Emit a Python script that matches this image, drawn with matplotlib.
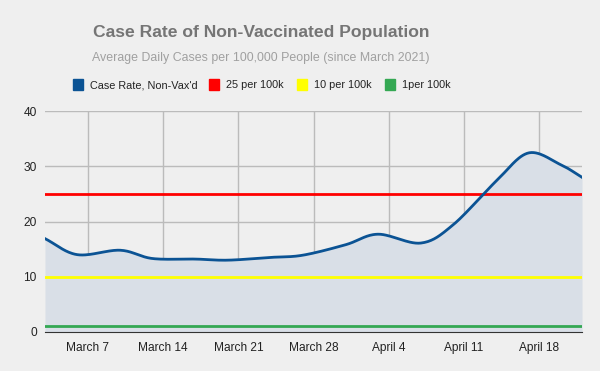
import numpy as np
import pandas as pd
import matplotlib
matplotlib.use("Agg")
import matplotlib.pyplot as plt
import matplotlib.dates as mdates
from matplotlib.patches import Rectangle

plt.rcParams['font.family'] = ['Liberation Sans', 'DejaVu Sans']

# data
dates = ["2021-03-03", "2021-03-06", "2021-03-10", "2021-03-13", "2021-03-17",
         "2021-03-20", "2021-03-24", "2021-03-27", "2021-03-31", "2021-04-03",
         "2021-04-07", "2021-04-10", "2021-04-14", "2021-04-17", "2021-04-20",
         "2021-04-22"]
case_rate = [16.9, 14.0, 14.8, 13.3, 13.2, 13.0, 13.5, 13.9, 15.8, 17.7,
             16.1, 19.4, 27.3, 32.4, 30.3, 28.0]
thresholds = [25, 10, 1]
threshold_labels = ["25 per 100k", "10 per 100k", "1per 100k"]
threshold_colors = ["#ff0000", "#ffff00", "#34a853"]
tick_dates = ["2021-03-07", "2021-03-14", "2021-03-21", "2021-03-28",
              "2021-04-04", "2021-04-11", "2021-04-18"]
tick_labels = ["March 7", "March 14", "March 21", "March 28",
               "April 4", "April 11", "April 18"]

x = mdates.date2num(pd.to_datetime(dates))
y = np.array(case_rate)

# smooth curve through the points (catmull-rom)
def smooth(xs, ys, n=30):
    px = np.concatenate([[2 * xs[0] - xs[1]], xs, [2 * xs[-1] - xs[-2]]])
    py = np.concatenate([[2 * ys[0] - ys[1]], ys, [2 * ys[-1] - ys[-2]]])
    outx, outy = [], []
    t = np.linspace(0, 1, n, endpoint=False)
    for i in range(1, len(px) - 2):
        for p, out in ((px, outx), (py, outy)):
            p0, p1, p2, p3 = p[i - 1], p[i], p[i + 1], p[i + 2]
            out.extend(0.5 * (2 * p1 + (-p0 + p2) * t
                              + (2 * p0 - 5 * p1 + 4 * p2 - p3) * t ** 2
                              + (-p0 + 3 * p1 - 3 * p2 + p3) * t ** 3))
    outx.append(xs[-1])
    outy.append(ys[-1])
    return np.array(outx), np.array(outy)

sx, sy = smooth(x, y)

bg = "#efefef"
fig = plt.figure(figsize=(6, 3.71), dpi=100, facecolor=bg)
ax = fig.add_axes([45 / 600, 39 / 371, 537 / 600, 221 / 371], facecolor=bg)

ax.fill_between(sx, 0, sy, color="#d9dfe7", lw=0, zorder=1)
for val, col in zip(thresholds, threshold_colors):
    ax.axhline(val, color=col, lw=2, zorder=2)
ax.plot(sx, sy, color="#0b5394", lw=2, zorder=3)

ax.set_xlim(x[0], x[-1])
ax.set_ylim(0, 40)
ax.set_yticks([0, 10, 20, 30, 40])
ax.set_xticks(mdates.date2num(pd.to_datetime(tick_dates)))
ax.set_xticklabels(tick_labels)
ax.grid(True, color="#bbbbbb", lw=1, zorder=0)
ax.set_axisbelow(True)
for s in ["top", "right", "left"]:
    ax.spines[s].set_visible(False)
ax.spines["bottom"].set_color("#333333")
ax.tick_params(length=0, labelsize=8.6, colors="#222222", pad=7)
ax.tick_params(axis="y", pad=6)

fig.text(0.435, 1 - 32 / 371, "Case Rate of Non-Vaccinated Population", ha="center",
         va="center", fontsize=12.6, fontweight="bold", color="#757575")
fig.text(0.435, 1 - 58 / 371, "Average Daily Cases per 100,000 People (since March 2021)",
         ha="center", va="center", fontsize=8.9, color="#a0a0a0")

# legend
items = [("Case Rate, Non-Vax'd", "#0b5394", 73)] + \
        list(zip(threshold_labels, threshold_colors, [209, 297, 385]))
ly = 371 - 85
for label, col, px in items:
    fig.patches.append(Rectangle((px / 600, (ly - 5) / 371), 10 / 600, 11 / 371,
                                 transform=fig.transFigure, color=col))
    fig.text((px + 17) / 600, ly / 371, label, ha="left", va="center",
             fontsize=7.8, color="#222222")

fig.savefig("out.png", dpi=100, facecolor=bg)
